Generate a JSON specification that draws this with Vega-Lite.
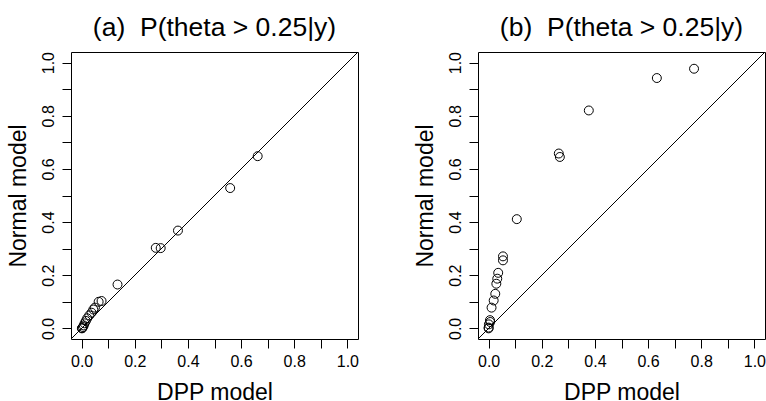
{
  "$schema": "https://vega.github.io/schema/vega-lite/v6.json",
  "padding": {"left": 6, "top": 14, "right": 0, "bottom": 0},
  "background": "white",
  "bounds": "flush",
  "spacing": 120,
  "config": {
    "font": "Liberation Sans",
    "view": {"stroke": "black", "strokeWidth": 1},
    "axis": {
      "domain": false, "grid": false, "tickColor": "black", "tickSize": 9, "tickWidth": 1,
      "labelColor": "black", "labelFontSize": 16, "labelFont": "Liberation Sans",
      "titleColor": "black", "titleFontSize": 23, "titleFontWeight": "normal", "titleFont": "Liberation Sans",
      "values": [0, 0.1, 0.2, 0.3, 0.4, 0.5, 0.6, 0.7, 0.8, 0.9, 1.0],
      "labelExpr": "round(datum.value*10)%2==0 ? format(datum.value,'.1f') : ''",
      "labelOverlap": false
    },
    "axisX": {"labelPadding": 5, "titlePadding": 12},
    "axisY": {"labelAngle": -90, "labelPadding": 6, "titlePadding": 10},
    "title": {"fontSize": 26.5, "fontWeight": "normal", "font": "Liberation Sans", "color": "black", "offset": 10}
  },
  "datasets": {
    "a": [
      {"dpp": 0.6625, "normal": 0.648},
      {"dpp": 0.559, "normal": 0.528},
      {"dpp": 0.3625, "normal": 0.368},
      {"dpp": 0.279, "normal": 0.303},
      {"dpp": 0.2975, "normal": 0.302},
      {"dpp": 0.135, "normal": 0.165},
      {"dpp": 0.075, "normal": 0.103},
      {"dpp": 0.064, "normal": 0.100},
      {"dpp": 0.05, "normal": 0.078},
      {"dpp": 0.044, "normal": 0.071},
      {"dpp": 0.0375, "normal": 0.059},
      {"dpp": 0.029, "normal": 0.049},
      {"dpp": 0.021, "normal": 0.038},
      {"dpp": 0.016, "normal": 0.028},
      {"dpp": 0.011, "normal": 0.019},
      {"dpp": 0.008, "normal": 0.011},
      {"dpp": 0.005, "normal": 0.005},
      {"dpp": 0.002, "normal": 0.001},
      {"dpp": 0.001, "normal": 0.0}
    ],
    "b": [
      {"dpp": 0.773, "normal": 0.977},
      {"dpp": 0.633, "normal": 0.942},
      {"dpp": 0.377, "normal": 0.820},
      {"dpp": 0.264, "normal": 0.658},
      {"dpp": 0.268, "normal": 0.645},
      {"dpp": 0.106, "normal": 0.411},
      {"dpp": 0.054, "normal": 0.271},
      {"dpp": 0.054, "normal": 0.256},
      {"dpp": 0.036, "normal": 0.209},
      {"dpp": 0.0325, "normal": 0.187},
      {"dpp": 0.029, "normal": 0.168},
      {"dpp": 0.025, "normal": 0.130},
      {"dpp": 0.019, "normal": 0.105},
      {"dpp": 0.011, "normal": 0.078},
      {"dpp": 0.005, "normal": 0.031},
      {"dpp": 0.006, "normal": 0.024},
      {"dpp": 0.001, "normal": 0.015},
      {"dpp": 0.0, "normal": 0.003},
      {"dpp": 0.0, "normal": 0.0}
    ],
    "diag": [
      {"dpp": -0.04, "normal": -0.04},
      {"dpp": 1.04, "normal": 1.04}
    ]
  },
  "hconcat": [
    {
      "width": 287,
      "height": 287,
      "title": "(a)\u00a0 P(theta > 0.25|y)",
      "layer": [
        {
          "data": {"name": "diag"},
          "mark": {"type": "line", "color": "black", "strokeWidth": 1, "clip": true},
          "encoding": {
            "x": {"field": "dpp", "type": "quantitative", "scale": {"domain": [-0.04, 1.04], "nice": false, "zero": false}, "title": "DPP model"},
            "y": {"field": "normal", "type": "quantitative", "scale": {"domain": [-0.04, 1.04], "nice": false, "zero": false}, "title": "Normal model"}
          }
        },
        {
          "data": {"name": "a"},
          "mark": {"type": "point", "shape": "circle", "filled": false, "color": "black", "strokeWidth": 1, "size": 80, "opacity": 1},
          "encoding": {
            "x": {"field": "dpp", "type": "quantitative"},
            "y": {"field": "normal", "type": "quantitative"}
          }
        }
      ]
    },
    {
      "width": 287,
      "height": 287,
      "title": "(b)\u00a0 P(theta > 0.25|y)",
      "layer": [
        {
          "data": {"name": "diag"},
          "mark": {"type": "line", "color": "black", "strokeWidth": 1, "clip": true},
          "encoding": {
            "x": {"field": "dpp", "type": "quantitative", "scale": {"domain": [-0.04, 1.04], "nice": false, "zero": false}, "title": "DPP model"},
            "y": {"field": "normal", "type": "quantitative", "scale": {"domain": [-0.04, 1.04], "nice": false, "zero": false}, "title": "Normal model"}
          }
        },
        {
          "data": {"name": "b"},
          "mark": {"type": "point", "shape": "circle", "filled": false, "color": "black", "strokeWidth": 1, "size": 80, "opacity": 1},
          "encoding": {
            "x": {"field": "dpp", "type": "quantitative"},
            "y": {"field": "normal", "type": "quantitative"}
          }
        }
      ]
    }
  ]
}
